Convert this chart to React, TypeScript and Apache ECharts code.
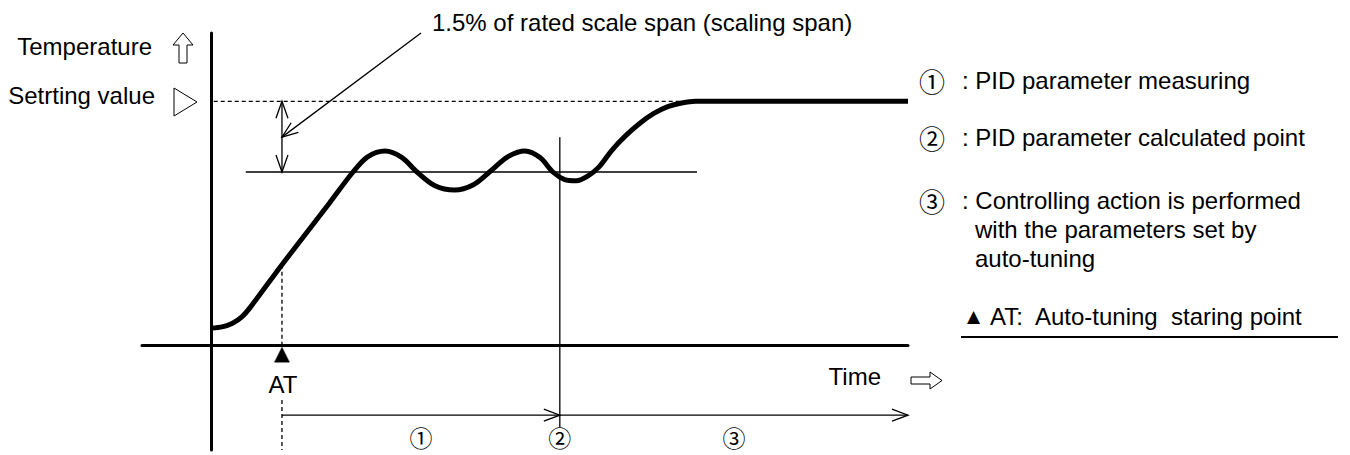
import { useEffect, useRef } from "react";
import * as echarts from "echarts";

// ---------- data ----------
const timeMin = -10;
const timeMax = 100;
const tempMin = -43;
const tempMax = 128;

const curveTime = [0, 1.5, 3.0, 4.3, 5.6, 10.1, 16.9, 20.3, 22.4, 24.9, 27.3, 29.5, 32.0, 34.9, 37.6, 39.9, 42.5, 45.0, 47.2, 49.0, 50.7, 52.4, 54.0, 55.6, 57.5, 59.5, 61.5, 63.5, 65.5, 67.5, 69.5, 75, 100];
const curveTemp = [7.0, 7.5, 9.0, 11.5, 15.7, 33.0, 58.2, 71.0, 77.2, 79.6, 77.0, 71.0, 65.5, 63.6, 65.8, 71.0, 77.2, 79.6, 76.8, 71.0, 67.9, 67.4, 69.3, 73.0, 80.0, 86.0, 91.0, 95.0, 97.8, 99.3, 100, 100, 100];

const setpoint = 100;
const bandTemp = 71;
const bandRange = [4.9, 69.7];
const setpointDashEnd = 69.5;
const atTime = 10.1;
const atCurveTemp = 33.0;
const calcTime = 50;
const leaderTargetTemp = 85.3;
const calcLineRange = [85.3, -33.6];
const atLowerDash = [-22.5, -43];
const phaseArrowTemp = -28.7;
const phaseLabelTemp = -37.5;

const titleText = "1.5% of rated scale span (scaling span)";
const yAxisLabel = "Temperature";
const setpointLabel = "Setrting value";
const xAxisLabel = "Time";
const atLabel = "AT";
const phaseLabels = ["①", "②", "③"];
const legendMarks = ["①", "②", "③"];
const legendTexts = [": PID parameter measuring", ": PID parameter calculated point", ": Controlling action is performed"];
const legendExtra = ["with the parameters set by", "auto-tuning"];
const atLegendMark = "▲";
const atLegendText = "AT:  Auto-tuning  staring point";

const FONT = "'Liberation Sans', Arial, Helvetica, sans-serif";
const CFONT = "'Noto Sans CJK JP', 'DejaVu Sans', sans-serif";

type P = number[];

function lineEl(a: P, b: P, lw = 1.3, dash?: number[]) {
  return {
    type: "line",
    silent: true,
    z: 10,
    shape: { x1: a[0], y1: a[1], x2: b[0], y2: b[1] },
    style: { stroke: "#000", lineWidth: lw, lineDash: dash, fill: null },
  };
}

function headEl(tip: P, from: P, len = 16, half = 6, lw = 1.3) {
  const dx = tip[0] - from[0];
  const dy = tip[1] - from[1];
  const L = Math.hypot(dx, dy) || 1;
  const ux = dx / L;
  const uy = dy / L;
  const bx = tip[0] - ux * len;
  const by = tip[1] - uy * len;
  return {
    type: "polyline",
    silent: true,
    z: 10,
    shape: { points: [[bx - uy * half, by + ux * half], [tip[0], tip[1]], [bx + uy * half, by - ux * half]] },
    style: { stroke: "#000", lineWidth: lw, fill: null },
  };
}

function textEl(x: number, y: number, s: string, align = "left", size = 24, family = FONT) {
  return {
    type: "text",
    silent: true,
    z: 10,
    x,
    y,
    style: {
      text: s,
      fill: "#000",
      fontSize: size,
      fontFamily: family,
      align,
      verticalAlign: "middle",
      textAlign: align,
      textVerticalAlign: "middle",
    },
  };
}

function polyEl(points: P[], fill = "#fff", lw = 1) {
  return {
    type: "polygon",
    silent: true,
    z: 10,
    shape: { points },
    style: { stroke: "#000", lineWidth: lw, fill },
  };
}

export default function App() {
  const ref = useRef<HTMLDivElement>(null);

  useEffect(() => {
    if (!ref.current) return;
    const chart = echarts.init(ref.current, null, { renderer: "svg" });
    const axisCommon = {
      type: "value",
      axisLine: { show: true, onZero: true, lineStyle: { color: "#000", width: 3 } },
      axisTick: { show: false },
      axisLabel: { show: false },
      splitLine: { show: false },
    };
    chart.setOption({
      animation: false,
      backgroundColor: "#ffffff",
      grid: { left: 142, right: 442, top: 33, bottom: 5 },
      xAxis: { ...axisCommon, min: timeMin, max: timeMax },
      yAxis: { ...axisCommon, min: tempMin, max: tempMax },
      series: [
        {
          type: "line",
          data: curveTime.map((t, i) => [t, curveTemp[i]]),
          smooth: 0.3,
          symbol: "none",
          clip: false,
          lineStyle: { color: "#000", width: 5 },
          z: 5,
        },
      ],
    });

    const p = (t: number, v: number): P => chart.convertToPixel({ gridIndex: 0 }, [t, v]) as P;

    const g: any[] = [];
    // setpoint dashed line
    g.push(lineEl(p(0.3, setpoint), p(setpointDashEnd, setpoint), 1.3, [4, 3]));
    // band line
    g.push(lineEl(p(bandRange[0], bandTemp), p(bandRange[1], bandTemp), 1.5));
    // double arrow
    const da = p(atTime, setpoint);
    const db = p(atTime, bandTemp);
    g.push(lineEl(da, db, 1.3));
    g.push(headEl(da, db, 17, 6));
    g.push(headEl(db, da, 17, 6));
    // leader with title
    const leaderStart: P = [421, 33];
    const leaderEnd = p(atTime, leaderTargetTemp);
    g.push(lineEl(leaderStart, leaderEnd, 1.3));
    g.push(headEl(leaderEnd, leaderStart, 16, 6));
    g.push(textEl(432, 22, titleText));
    // calculated point vertical
    g.push(lineEl(p(calcTime, calcLineRange[0]), p(calcTime, calcLineRange[1]), 1.3));
    // AT dashed verticals
    g.push(lineEl(p(atTime, atCurveTemp), p(atTime, 0), 1.3, [4, 3]));
    g.push(lineEl(p(atTime, atLowerDash[0]), p(atTime, atLowerDash[1]), 1.3, [4, 3]));
    // phase arrows
    const a0 = p(atTime, phaseArrowTemp);
    const a1 = p(calcTime, phaseArrowTemp);
    const a2 = p(timeMax, phaseArrowTemp);
    g.push(lineEl(a0, a1, 1.3));
    g.push(headEl(a1, a0, 16, 6));
    g.push(lineEl(a1, a2, 1.3));
    g.push(headEl(a2, a1, 16, 6));
    // phase labels
    const phaseTimes = [(atTime + calcTime) / 2, calcTime, (calcTime + timeMax) / 2];
    phaseTimes.forEach((t, i) => {
      const q = p(t, phaseLabelTemp);
      g.push(textEl(q[0], q[1], phaseLabels[i], "center", 23, CFONT));
    });
    // AT marker
    const at0 = p(atTime, 0);
    g.push(polyEl([[at0[0], at0[1] + 2], [at0[0] + 7.5, at0[1] + 17], [at0[0] - 7.5, at0[1] + 17]], "#000", 0.5));
    g.push(textEl(at0[0] + 1, at0[1] + 39, atLabel, "center"));
    // Axis labels
    g.push(textEl(152, 46, yAxisLabel, "right"));
    g.push(polyEl([[183, 33], [193, 45], [187, 45], [187, 63], [179, 63], [179, 45], [173, 45]], "#fff", 1));
    g.push(textEl(155, 95, setpointLabel, "right"));
    g.push(polyEl([[174, 88], [197, 102], [174, 116]], "#fff", 1));
    g.push(textEl(881, 376, xAxisLabel, "right"));
    g.push(polyEl([[911, 377], [930, 377], [930, 372], [942, 380.5], [930, 389], [930, 384], [911, 384]], "#fff", 1));
    // legend
    const rowY = [80, 137, 200];
    legendMarks.forEach((m, i) => {
      g.push(textEl(932, rowY[i], m, "center", 26, CFONT));
      g.push(textEl(962, rowY[i], legendTexts[i]));
    });
    g.push(textEl(975, 229, legendExtra[0]));
    g.push(textEl(975, 258, legendExtra[1]));
    g.push(textEl(967, 316, atLegendMark, "left", 17, "'DejaVu Sans', sans-serif"));
    g.push(textEl(990, 316, atLegendText));
    g.push(lineEl([961, 337], [1338, 337], 2.2));

    chart.setOption({ graphic: g });
    return () => chart.dispose();
  }, []);

  return (
    <div
      ref={ref}
      style={{ position: "absolute", left: 0, top: 0, width: 1350, height: 455, background: "#fff" }}
    />
  );
}
